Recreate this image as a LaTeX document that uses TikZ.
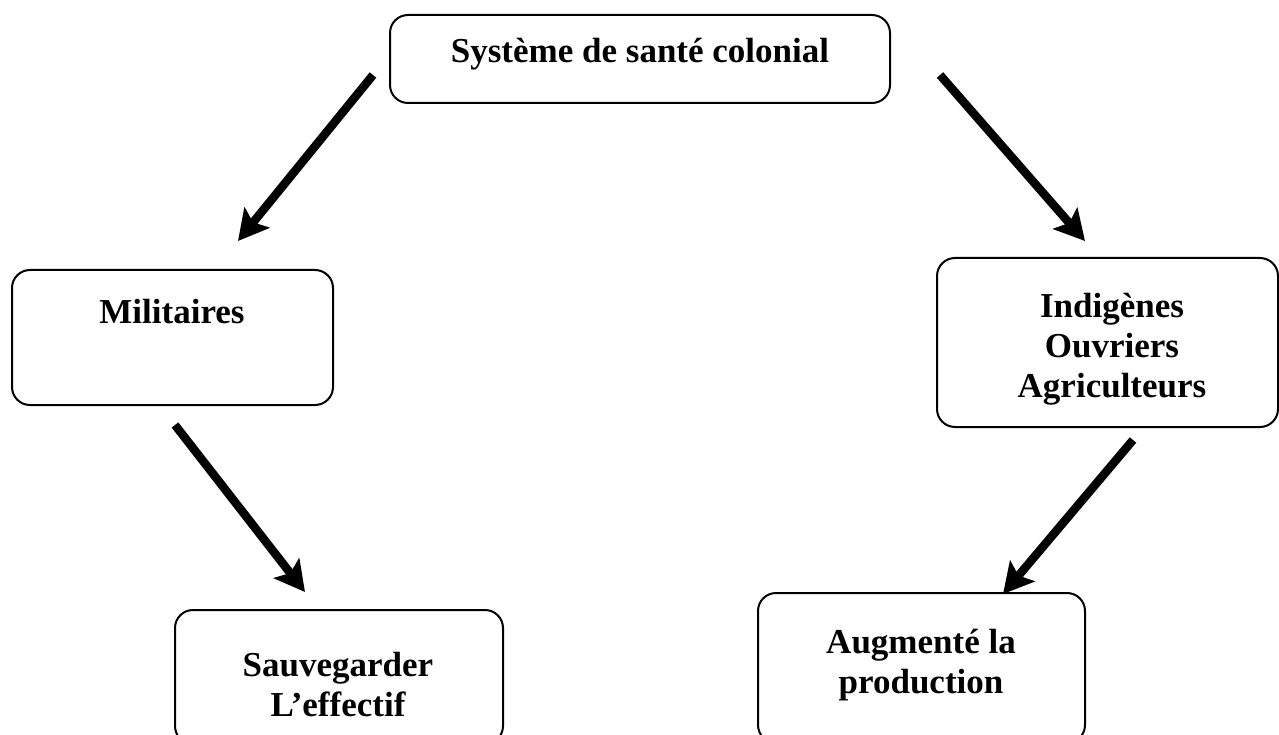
\documentclass[tikz,border=0pt]{standalone}
\usepackage{fontspec}
\setmainfont{Liberation Serif}
\usetikzlibrary{arrows.meta}
\begin{document}
\begin{tikzpicture}[x=1pt,y=-1pt,
  box/.style={draw=black, line width=2pt, rounded corners=18pt, inner sep=0pt},
  txt/.style={font=\fontsize{35}{40}\bfseries\selectfont, align=center, inner sep=0pt, anchor=base},
  bigarrow/.style={line width=8.5pt, -{Stealth[length=30pt,width=32pt,inset=6pt]}}]
  \useasboundingbox (0,0) rectangle (1279,735);

  % boxes
  \node[box, minimum width=500pt, minimum height=88pt] (sys) at (640,59) {};
  \node[box, minimum width=321pt, minimum height=135pt] (mil) at (172.5,337.5) {};
  \node[box, minimum width=341pt, minimum height=169pt] (ind) at (1107.5,342.5) {};
  \node[box, minimum width=328pt, minimum height=134pt] (sauv) at (339,677) {};
  \node[box, minimum width=327pt, minimum height=150pt] (aug) at (921.5,668) {};

  % labels (base anchor sits on the last line)
  \node[txt] (sysT) at (640,63) {Système de santé colonial};
  \node[txt] (milT) at (172,323) {Militaires};
  \node[txt] (indT) at (1112,397) {Indigènes\\Ouvriers\\Agriculteurs};
  \node[txt] (sauvT) at (338,716) {Sauvegarder\\L’effectif};
  \node[txt] (augT) at (921,693) {Augmenté la\\production};

  % arrow ends
  \coordinate (a1s) at (373,75);   \coordinate (a1e) at (238,241);
  \coordinate (a2s) at (940,75);   \coordinate (a2e) at (1085,241);
  \coordinate (a3s) at (175,425);  \coordinate (a3e) at (305,592);
  \coordinate (a4s) at (1133,440); \coordinate (a4e) at (1003,594);

  \draw[bigarrow] (a1s) -- (a1e);
  \draw[bigarrow] (a2s) -- (a2e);
  \draw[bigarrow] (a3s) -- (a3e);
  \draw[bigarrow] (a4s) -- (a4e);
\end{tikzpicture}
\end{document}
